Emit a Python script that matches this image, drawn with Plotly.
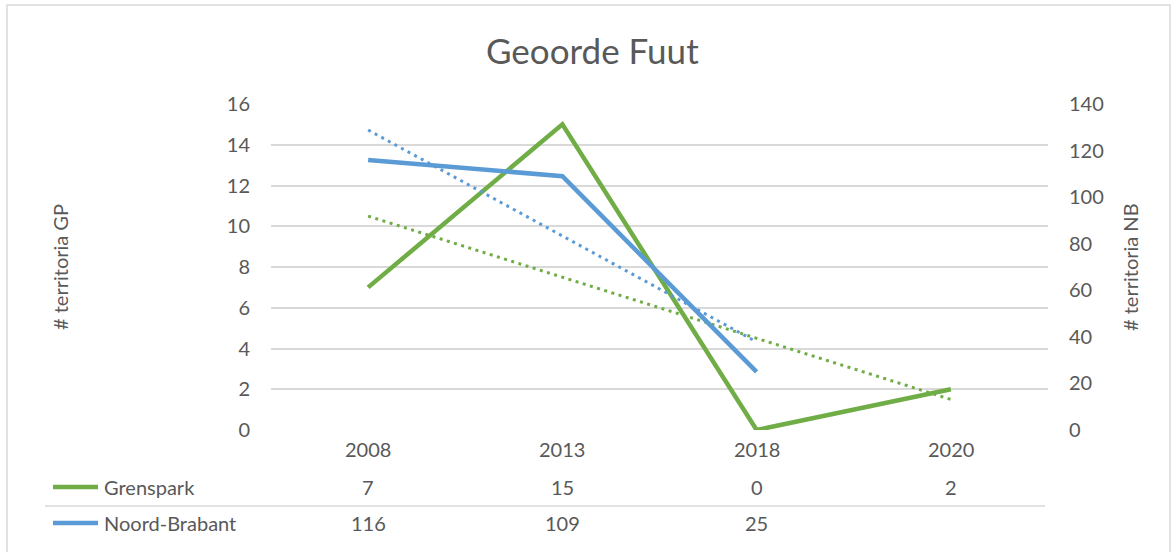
import numpy as np
import plotly.graph_objects as go

title = "Geoorde Fuut"
years = ["2008", "2013", "2018", "2020"]
grenspark = [7, 15, 0, 2]
noord_brabant = [116, 109, 25, None]
series_names = ["Grenspark", "Noord-Brabant"]
left_title = "# territoria GP"
right_title = "# territoria NB"
left_ticks = [0, 2, 4, 6, 8, 10, 12, 14, 16]
right_ticks = [0, 20, 40, 60, 80, 100, 120, 140]

GREEN = "#70AD47"
BLUE = "#5B9BD5"
TXT = "#595959"
GRID = "#D9D9D9"
FONT = "Lato"
FS = 20

W, H = 1171, 552
L, R, T, B = 271, 1048, 104, 430  # plot area pixel edges


def px_x(px):
    return (px - L) / (R - L)


def px_y(py):
    return (B - py) / (B - T)


def trend(vals):
    idx = [i for i, v in enumerate(vals) if v is not None]
    ys = [vals[i] for i in idx]
    m, c = np.polyfit(idx, ys, 1)
    return idx, [m * i + c for i in idx]


xi = list(range(len(years)))

fig = go.Figure()

# trendlines (dotted)
tx, ty = trend(grenspark)
fig.add_trace(go.Scatter(x=tx, y=ty, mode="lines", yaxis="y",
                         line=dict(color=GREEN, width=3, dash="3px,4.5px"),
                         hoverinfo="skip", showlegend=False))
tx, ty = trend(noord_brabant)
fig.add_trace(go.Scatter(x=tx, y=ty, mode="lines", yaxis="y2",
                         line=dict(color=BLUE, width=3, dash="3px,4.5px"),
                         hoverinfo="skip", showlegend=False))

# main lines
fig.add_trace(go.Scatter(x=xi, y=grenspark, mode="lines", name=series_names[0],
                         yaxis="y", line=dict(color=GREEN, width=4.5), showlegend=False))
fig.add_trace(go.Scatter(x=xi, y=noord_brabant, mode="lines", name=series_names[1],
                         yaxis="y2", line=dict(color=BLUE, width=4.5), showlegend=False,
                         connectgaps=False))

annotations = []
# category row of data table
for i, yr in enumerate(years):
    annotations.append(dict(x=i, xref="x", y=px_y(449), yref="paper", text=yr,
                            showarrow=False, xanchor="center", yanchor="middle",
                            font=dict(family=FONT, size=FS, color=TXT)))
rows = [(grenspark, 487), (noord_brabant, 523)]
for vals, py in rows:
    for i, v in enumerate(vals):
        if v is None:
            continue
        annotations.append(dict(x=i, xref="x", y=px_y(py), yref="paper", text=str(v),
                                showarrow=False, xanchor="center", yanchor="middle",
                                font=dict(family=FONT, size=FS, color=TXT)))
for name, (vals, py) in zip(series_names, rows):
    annotations.append(dict(x=px_x(102), xref="paper", y=px_y(py), yref="paper", text=name,
                            showarrow=False, xanchor="left", yanchor="middle",
                            font=dict(family=FONT, size=FS, color=TXT)))

# axis titles
annotations.append(dict(x=px_x(60), xref="paper", y=0.5, yref="paper", text=left_title,
                        textangle=-90, showarrow=False, xanchor="center", yanchor="middle",
                        font=dict(family=FONT, size=FS, color=TXT)))
annotations.append(dict(x=px_x(1130), xref="paper", y=0.5, yref="paper", text=right_title,
                        textangle=-90, showarrow=False, xanchor="center", yanchor="middle",
                        font=dict(family=FONT, size=FS, color=TXT)))
# title
annotations.append(dict(x=px_x(592), xref="paper", y=px_y(50), yref="paper",
                        text=title, showarrow=False, xanchor="center", yanchor="middle",
                        font=dict(family=FONT, size=35, color=TXT)))

shapes = [
    # chart border
    dict(type="rect", xref="paper", yref="paper", x0=px_x(7), x1=px_x(1170),
         y0=px_y(556), y1=px_y(5), line=dict(color=GRID, width=1.5)),
    # data table separator
    dict(type="line", xref="paper", yref="paper", x0=px_x(45), x1=px_x(1045),
         y0=px_y(506), y1=px_y(506), line=dict(color=GRID, width=1.5)),
    # legend keys
    dict(type="line", xref="paper", yref="paper", x0=px_x(53), x1=px_x(98),
         y0=px_y(487), y1=px_y(487), line=dict(color=GREEN, width=4.5)),
    dict(type="line", xref="paper", yref="paper", x0=px_x(53), x1=px_x(98),
         y0=px_y(523), y1=px_y(523), line=dict(color=BLUE, width=4.5)),
]

fig.update_layout(
    width=W, height=H,
    margin=dict(l=L, r=W - R, t=T, b=H - B, pad=0),
    paper_bgcolor="white", plot_bgcolor="white",
    font=dict(family=FONT, size=FS, color=TXT),
    xaxis=dict(range=[-0.5, len(years) - 0.5], showgrid=False, showticklabels=False,
               zeroline=False, showline=False, ticks=""),
    yaxis=dict(range=[0, 16], tickvals=left_ticks, showgrid=True, gridcolor=GRID,
               gridwidth=1.5, zeroline=False, showline=False, ticks="",
               ticklabelstandoff=20, tickfont=dict(family=FONT, size=FS, color=TXT)),
    yaxis2=dict(range=[0, 140], tickvals=right_ticks, overlaying="y", side="right",
                showgrid=False, zeroline=False, showline=False, ticks="",
                ticklabelstandoff=20, tickfont=dict(family=FONT, size=FS, color=TXT)),
    annotations=annotations,
    shapes=shapes,
    showlegend=False,
)

fig.write_html("out.html", config={"displayModeBar": False},
               post_script="document.body.style.margin='0px';document.body.style.overflow='hidden';")
